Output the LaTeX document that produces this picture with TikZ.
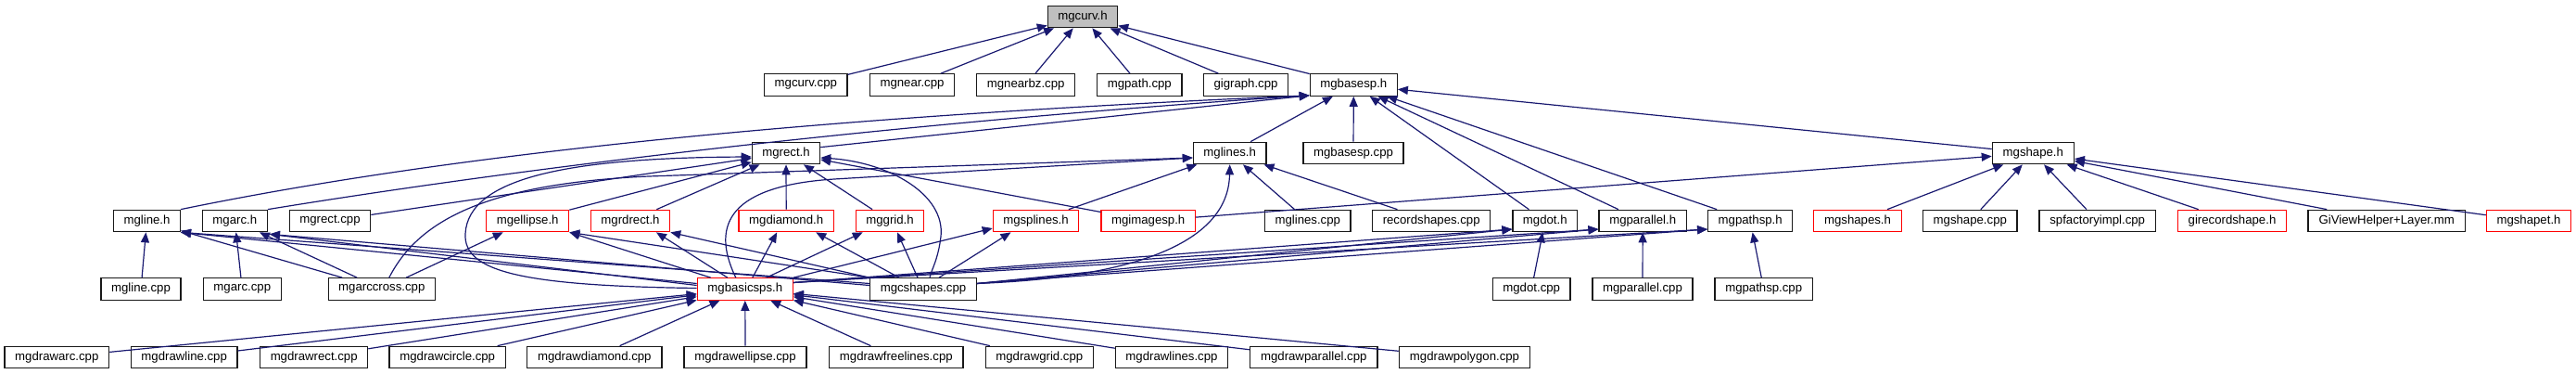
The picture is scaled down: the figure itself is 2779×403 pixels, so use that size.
\documentclass[tikz,border=0pt]{standalone}
\usepackage{fontspec}
\setmainfont{Liberation Sans}
\usetikzlibrary{arrows.meta,calc}
\definecolor{mblue}{HTML}{191970}
\definecolor{nodegray}{HTML}{BFBFBF}
\newcommand\nodefont{\fontsize{13.2}{15}\selectfont}
\tikzset{
  nd/.style={draw=black!90, line width=1.2pt, fill=white, minimum height=23.5pt, inner sep=0pt, font=\nodefont, text=black},
  rd/.style={nd, draw=red},
  edge/.style={draw=mblue, line width=1.2pt, <-, >={Triangle[length=11pt,width=9pt]}}
}
\begin{document}
\begin{tikzpicture}[x=1pt,y=-1pt]
\useasboundingbox (0,0) rectangle (2779,403);
% row 0
\node[nd, fill=nodegray, minimum width=75.3pt] (curvh) at (1168,18) {mgcurv.h};
% row 1
\node[nd, minimum width=89.3pt] (curvcpp) at (869.3,91.5) {mgcurv.cpp};
\node[nd, minimum width=91.3pt] (nearcpp) at (984,91.5) {mgnear.cpp};
\node[nd, minimum width=106pt] (nearbz) at (1106.7,91.5) {mgnearbz.cpp};
\node[nd, minimum width=91.3pt] (pathcpp) at (1229.3,91.5) {mgpath.cpp};
\node[nd, minimum width=90.7pt] (gigraph) at (1344,91.5) {gigraph.cpp};
\node[nd, minimum width=94pt] (basesph) at (1460.3,91.5) {mgbasesp.h};
% row 2
\node[nd, minimum width=73.3pt] (recth) at (848,165) {mgrect.h};
\node[nd, minimum width=78.7pt] (linesh) at (1326.7,165) {mglines.h};
\node[nd, minimum width=108pt] (basespcpp) at (1460,165) {mgbasesp.cpp};
\node[nd, minimum width=88pt] (shapeh) at (2193.3,165) {mgshape.h};
% row 3
\node[nd, minimum width=71.6pt] (lineh) at (158.5,238) {mgline.h};
\node[nd, minimum width=70pt] (arch) at (253.3,238) {mgarc.h};
\node[nd, minimum width=87.4pt] (rectcpp) at (356,238) {mgrect.cpp};
\node[rd, minimum width=89pt] (ellipseh) at (569.2,238) {mgellipse.h};
\node[rd, minimum width=85.3pt] (rdrecth) at (680,238) {mgrdrect.h};
\node[rd, minimum width=102.3pt] (diamondh) at (848.2,238) {mgdiamond.h};
\node[rd, minimum width=73.3pt] (gridh) at (960,238) {mggrid.h};
\node[rd, minimum width=92.3pt] (splinesh) at (1117.5,238) {mgsplines.h};
\node[rd, minimum width=101.3pt] (imagesph) at (1238.7,238) {mgimagesp.h};
\node[nd, minimum width=92.3pt] (linescpp) at (1410.8,238) {mglines.cpp};
\node[nd, minimum width=127pt] (recordcpp) at (1544.2,238) {recordshapes.cpp};
\node[nd, minimum width=69.7pt] (doth) at (1666.8,238) {mgdot.h};
\node[nd, minimum width=94.3pt] (parallelh) at (1772.2,238) {mgparallel.h};
\node[nd, minimum width=91pt] (pathsph) at (1888.2,238) {mgpathsp.h};
\node[rd, minimum width=94.7pt] (shapesh) at (2004,238) {mgshapes.h};
\node[nd, minimum width=101.3pt] (shapecpp) at (2125.3,238) {mgshape.cpp};
\node[nd, minimum width=125.3pt] (spfactory) at (2262.7,238) {spfactoryimpl.cpp};
\node[rd, minimum width=117.3pt] (girecord) at (2408,238) {girecordshape.h};
\node[nd, minimum width=169.3pt] (giview) at (2574.7,238) {GiViewHelper+Layer.mm};
\node[rd, minimum width=91.3pt] (shapeth) at (2728,238) {mgshapet.h};
% row 4
\node[nd, minimum width=86pt] (linecpp) at (152,311.5) {mgline.cpp};
\node[nd, minimum width=84pt] (arccpp) at (261.3,311.5) {mgarc.cpp};
\node[nd, minimum width=115pt] (arccross) at (411.8,311.5) {mgarccross.cpp};
\node[rd, minimum width=103pt] (basicsps) at (803.8,311.5) {mgbasicsps.h};
\node[nd, minimum width=114.7pt] (cshapes) at (996,311.5) {mgcshapes.cpp};
\node[nd, minimum width=83.7pt] (dotcpp) at (1652.2,311.5) {mgdot.cpp};
\node[nd, minimum width=108pt] (parallelcpp) at (1772,311.5) {mgparallel.cpp};
\node[nd, minimum width=105.3pt] (pathspcpp) at (1902.7,311.5) {mgpathsp.cpp};
% row 5
\node[nd, minimum width=112.7pt] (dwarc) at (61.3,385) {mgdrawarc.cpp};
\node[nd, minimum width=114.7pt] (dwline) at (198.7,385) {mgdrawline.cpp};
\node[nd, minimum width=116pt] (dwrect) at (338.7,385) {mgdrawrect.cpp};
\node[nd, minimum width=125.3pt] (dwcircle) at (482.7,385) {mgdrawcircle.cpp};
\node[nd, minimum width=145.3pt] (dwdiamond) at (641.3,385) {mgdrawdiamond.cpp};
\node[nd, minimum width=132pt] (dwellipse) at (804,385) {mgdrawellipse.cpp};
\node[nd, minimum width=144.3pt] (dwfree) at (966.8,385) {mgdrawfreelines.cpp};
\node[nd, minimum width=116pt] (dwgrid) at (1121.3,385) {mgdrawgrid.cpp};
\node[nd, minimum width=121.3pt] (dwlines) at (1264,385) {mgdrawlines.cpp};
\node[nd, minimum width=137.3pt] (dwparallel) at (1417.3,385) {mgdrawparallel.cpp};
\node[nd, minimum width=141.3pt] (dwpolygon) at (1580,385) {mgdrawpolygon.cpp};

% ---- edges into mgcurv.h
\foreach \c in {curvcpp,nearcpp,nearbz,pathcpp,gigraph,basesph}
  \draw[edge] (curvh) -- (\c);
% ---- edges into mgbasesp.h
\draw[edge] ($(basesph.south west)+(0,-1)$) .. controls (900,125) and (500,163) .. (lineh.north east);
\draw[edge] ($(basesph.south west)+(0,-1)$) .. controls (1000,130) and (600,175) .. (arch.north east);
\draw[edge] ($(basesph.south west)+(0,-1)$) -- ($(recth.north east)+(0,6)$);
\foreach \c in {linesh,basespcpp,doth,parallelh,pathsph,shapeh}
  \draw[edge] (basesph) -- (\c);
% ---- mgline.h / mgarc.h
\draw[edge] (lineh) -- (linecpp);
\draw[edge] (lineh) -- (arccross);
\draw[edge] (lineh.south east) -- ($(basicsps.west)+(0,-6)$);
\draw[edge] (lineh.south east) -- ($(cshapes.west)+(0,-6)$);
\draw[edge] (arch) -- (arccpp);
\draw[edge] (arch) -- (arccross);
\draw[edge] ($(arch.south east)+(2,2)$) -- ($(basicsps.west)+(0,-4)$);
\draw[edge] ($(arch.south east)+(2,2)$) -- ($(cshapes.west)+(0,-4)$);
% ---- mgrect.h
\draw[edge] (recth) -- (rectcpp);
\draw[edge] (recth) -- (ellipseh);
\draw[edge] (recth) -- (rdrecth);
\draw[edge] (recth) -- (diamondh);
\draw[edge] (recth) -- (gridh);
\draw[edge] (recth) -- (imagesph);
\draw[edge] ($(recth.west)+(0,4)$) .. controls (620,170) and (505,190) .. (502,252)
   .. controls (500,292) and (560,308) .. ($(basicsps.west)+(0,-1)$);
\draw[edge] ($(recth.east)+(0,5)$) .. controls (960,175) and (1020,210) .. (1015,255)
   .. controls (1012,280) and (1005,290) .. ($(cshapes.north)+(7,0)$);
% ---- mglines.h
\draw[edge] (linesh) -- (splinesh);
\draw[edge] (linesh) -- (linescpp);
\draw[edge] (linesh) -- (recordcpp);
\draw[edge] (linesh.south) .. controls (1325,270) and (1200,300) .. ($(cshapes.east)+(0,-6)$);
\draw[edge] ($(linesh.west)+(0,5)$) -- (900,193) .. controls (790,200) and (765,240) .. ($(basicsps.north)+(-10,0)$);
\draw[edge] ($(linesh.west)+(0,5)$) -- (700,190) .. controls (520,198) and (450,240) .. ($(arccross.north)+(8,0)$);
% ---- mgshape.h
\foreach \c in {imagesph,shapesh,shapecpp,spfactory,girecord,giview,shapeth}
  \draw[edge] (shapeh) -- (\c);
% ---- red headers
\draw[edge] (ellipseh) -- (arccross);
\draw[edge] (ellipseh.south east) -- ($(basicsps.north west)+(15,0)$);
\draw[edge] (ellipseh.south east) -- (cshapes.north west);
\draw[edge] ($(rdrecth.south)+(28,0)$) -- ($(basicsps.north)+(-19,0)$);
\draw[edge] (rdrecth.south east) -- (cshapes.north west);
\draw[edge] ($(diamondh.south)+(-10,0)$) -- ($(basicsps.north)+(8,0)$);
\draw[edge] ($(diamondh.south)+(32,0)$) -- ($(cshapes.north)+(-26,0)$);
\draw[edge] ($(gridh.south west)+(8,0)$) -- ($(basicsps.north)+(23,0)$);
\draw[edge] ($(gridh.south)+(8,0)$) -- ($(cshapes.north)+(-6,0)$);
\draw[edge] ($(splinesh.west)+(0,8)$) -- (basicsps.north east);
\draw[edge] ($(splinesh.south)+(-27,0)$) -- ($(cshapes.north)+(17,0)$);
% ---- mgdot / mgparallel / mgpathsp
\foreach \p/\c in {doth/dotcpp,parallelh/parallelcpp,pathsph/pathspcpp} {
  \draw[edge] (\p) -- (\c);
  \draw[edge] ($(\p.west)+(0,9)$) -- ($(basicsps.east)+(0,-7)$);
  \draw[edge] ($(\p.west)+(0,9)$) -- ($(cshapes.east)+(0,-6)$);
}
% ---- into mgbasicsps.h
\foreach \c in {dwarc,dwline,dwrect,dwcircle,dwdiamond,dwellipse,dwfree,dwgrid,dwlines,dwparallel,dwpolygon}
  \draw[edge] (basicsps) -- (\c);
\end{tikzpicture}
\end{document}
